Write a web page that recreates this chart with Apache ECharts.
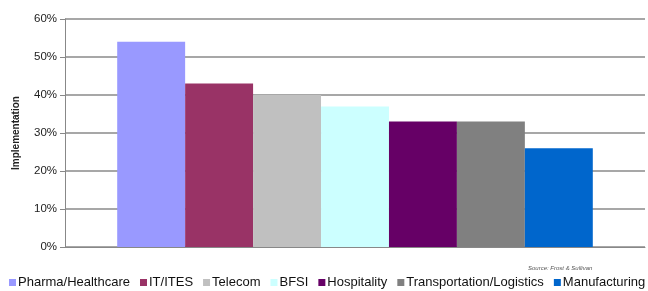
<!DOCTYPE html>
<html>
<head>
<meta charset="utf-8">
<script src="https://cdn.jsdelivr.net/npm/echarts@6/dist/echarts.min.js"></script>
<style>
  html, body { margin: 0; padding: 0; background: #fff; }
  #chart { width: 648px; height: 291px; }
</style>
</head>
<body>
<div id="chart"></div>
<script>
// sectors and implementation share (%)
const sectors = ['Pharma/Healthcare', 'IT/ITES', 'Telecom', 'BFSI', 'Hospitality', 'Transportation/Logistics', 'Manufacturing']
const implementation = [54, 43, 40, 37, 33, 33, 26]
const colors = ['#9999ff', '#993366', '#c0c0c0', '#ccffff', '#660066', '#808080', '#0066cc']
const yTicks = [0, 10, 20, 30, 40, 50, 60]

let chart = echarts.init(document.getElementById('chart'))
let option = {
    animation: false,
    textStyle: { fontFamily: 'Liberation Sans, Arial, sans-serif' },
    grid: { left: 65, right: 3, top: 19, bottom: 44 },
    legend: { // 底部图例
        top: 271,
        left: 4,
        width: 900,
        itemWidth: 7,
        itemHeight: 7,
        itemGap: 10,
        icon: 'rect',
        textStyle: { fontSize: 13, color: '#111', padding: [0, 0, 0, -3] },
        data: sectors
    },
    graphic: [{
        type: 'text',
        left: 528,
        top: 265,
        style: { text: 'Source: Frost & Sullivan', fontSize: 6, fontStyle: 'italic', fill: '#555', fontFamily: 'Liberation Sans' }
    }],
    xAxis: {
        type: 'category',
        data: [''],
        axisLine: { lineStyle: { color: '#888', width: 1 } },
        axisTick: { show: false },
        axisLabel: { show: false }
    },
    yAxis: {
        type: 'value',
        min: yTicks[0],
        max: yTicks[yTicks.length - 1],
        interval: 10,
        name: 'Implementation',
        nameLocation: 'middle',
        nameGap: 44,
        nameTextStyle: { fontSize: 10, fontWeight: 'bold', color: '#222' },
        axisLine: { show: true, lineStyle: { color: '#888' } },
        axisTick: { show: true, length: 5, lineStyle: { color: '#888' } },
        axisLabel: { formatter: '{value}%', fontSize: 11.5, color: '#222', margin: 8 },
        splitLine: { lineStyle: { color: '#8a8a8a', width: 1.5 } }
    },
    series: sectors.map((name, i) => ({
        name: name,
        type: 'bar',
        data: [implementation[i]],
        barGap: 0,
        barCategoryGap: '18%',
        itemStyle: { color: colors[i] },
        color: colors[i]
    }))
}
chart.setOption(option)
</script>
</body>
</html>
